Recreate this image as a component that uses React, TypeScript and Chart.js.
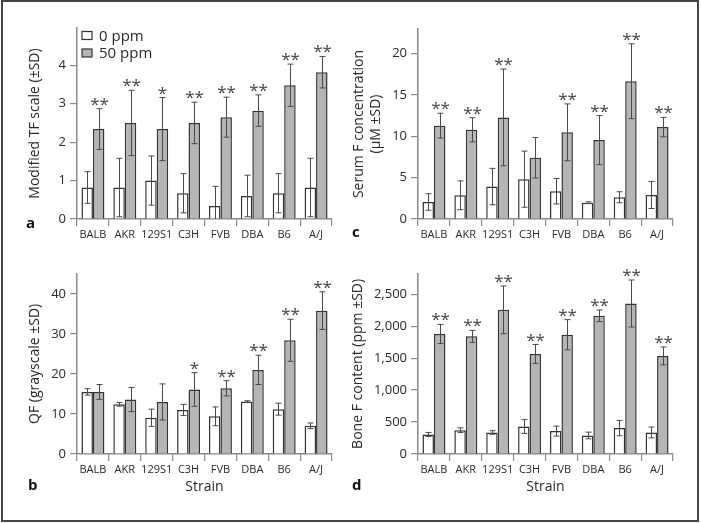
import React, { useEffect, useRef } from 'react';
import { Chart, registerables } from 'chart.js';

Chart.register(...registerables);

// ---------- data ----------
const strains = ['BALB', 'AKR', '129S1', 'C3H', 'FVB', 'DBA', 'B6', 'A/J'];
const doseLabels = ['0 ppm', '50 ppm'];

// panel a: modified TF scale
const tfControl = [0.82, 0.82, 1.0, 0.67, 0.34, 0.6, 0.67, 0.82];
const tfControlSd = [0.41, 0.76, 0.64, 0.51, 0.51, 0.54, 0.51, 0.76];
const tfFluoride = [2.34, 2.5, 2.34, 2.5, 2.65, 2.82, 3.48, 3.82];
const tfFluorideSd = [0.53, 0.85, 0.82, 0.54, 0.52, 0.41, 0.55, 0.41];
const tfSig = ['**', '**', '*', '**', '**', '**', '**', '**'];
const tfTicks = [0, 1, 2, 3, 4];

// panel b: QF grayscale
const qfControl = [15.5, 12.4, 9.05, 11.0, 9.4, 13.1, 11.2, 7.05];
const qfControlSd = [0.8, 0.45, 2.15, 1.4, 2.35, 0.2, 1.5, 0.7];
const qfFluoride = [15.5, 13.6, 13.0, 16.1, 16.4, 21.0, 28.4, 35.8];
const qfFluorideSd = [1.85, 3.0, 4.5, 4.2, 1.9, 3.65, 5.25, 4.7];
const qfSig = ['', '', '', '*', '**', '**', '**', '**'];
const qfTicks = [0, 10, 20, 30, 40];

// panel c: serum F concentration
const serumControl = [2.06, 2.87, 3.93, 4.82, 3.36, 1.98, 2.63, 2.91];
const serumControlSd = [1.0, 1.74, 2.2, 3.4, 1.54, 0.1, 0.67, 1.64];
const serumFluoride = [11.3, 10.8, 12.3, 7.41, 10.49, 9.55, 16.68, 11.13];
const serumFluorideSd = [1.5, 1.46, 5.85, 2.45, 3.44, 2.97, 4.53, 1.17];
const serumSig = ['**', '**', '**', '', '**', '**', '**', '**'];
const serumTicks = [0, 5, 10, 15, 20];

// panel d: bone F content
const boneControl = [306, 373, 337, 430, 358, 290, 405, 337];
const boneControlSd = [31, 36, 28, 108, 78, 52, 120, 85];
const boneFluoride = [1878, 1841, 2256, 1566, 1867, 2163, 2355, 1535];
const boneFluorideSd = [150, 93, 373, 148, 236, 90, 368, 140];
const boneSig = ['**', '**', '**', '**', '**', '**', '**', '**'];
const boneTicks = [0, 500, 1000, 1500, 2000, 2500];

// ---------- styling ----------
const FONT = "'Open Sans', 'Noto Sans', sans-serif";
const TEXT = '#2a2a2a';
const AXIS = '#8a8a8a';
const BAR_BORDER = '#333333';
const FILL_CTRL = '#ffffff';
const FILL_F = '#b5b5b5';

Chart.defaults.font.family = FONT;
Chart.defaults.color = TEXT;

const errorBarPlugin = {
  id: 'errorBars',
  afterDatasetsDraw(chart: any, _args: any, opts: any) {
    const { ctx } = chart;
    const ys = chart.scales.y;
    chart.data.datasets.forEach((ds: any, di: number) => {
      const meta = chart.getDatasetMeta(di);
      const sds = opts.sds[di];
      meta.data.forEach((bar: any, j: number) => {
        const v = ds.data[j];
        const sd = sds[j];
        const x = Math.round(bar.x) + 0.5;
        const yt = ys.getPixelForValue(v + sd);
        const low = v - sd;
        const yb = ys.getPixelForValue(Math.max(low, 0));
        const cap = 3;
        ctx.save();
        ctx.strokeStyle = opts.color;
        ctx.lineWidth = 1;
        ctx.beginPath();
        ctx.moveTo(x, yt);
        ctx.lineTo(x, yb);
        ctx.moveTo(x - cap, yt);
        ctx.lineTo(x + cap, yt);
        if (low > 0) {
          ctx.moveTo(x - cap, yb);
          ctx.lineTo(x + cap, yb);
        }
        ctx.stroke();
        if (di === 1 && opts.sig[j]) {
          const size = opts.sigSize;
          ctx.fillStyle = opts.sigColor;
          ctx.font = `${size}px ${FONT}`;
          ctx.textAlign = 'center';
          ctx.textBaseline = 'alphabetic';
          ctx.fillText(opts.sig[j], x, yt - opts.sigGap + 0.59 * size);
        }
        ctx.restore();
      });
    });
  },
};

const legendPlugin = {
  id: 'boxLegend',
  afterDraw(chart: any, _args: any, opts: any) {
    if (!opts || !opts.show) return;
    const { ctx } = chart;
    chart.data.datasets.forEach((ds: any, i: number) => {
      const cy = opts.y + i * opts.dy;
      ctx.save();
      ctx.fillStyle = ds.backgroundColor;
      ctx.fillRect(opts.x, cy - opts.boxH / 2, opts.boxW, opts.boxH);
      ctx.strokeStyle = ds.borderColor;
      ctx.lineWidth = 1.2;
      ctx.strokeRect(opts.x, cy - opts.boxH / 2, opts.boxW, opts.boxH);
      ctx.fillStyle = TEXT;
      ctx.font = `${opts.size}px ${FONT}`;
      ctx.textAlign = 'left';
      ctx.textBaseline = 'middle';
      ctx.fillText(ds.label, opts.x + opts.boxW + 7, cy + 1);
      ctx.restore();
    });
  },
};

const letterPlugin = {
  id: 'panelLetter',
  afterDraw(chart: any, _args: any, opts: any) {
    const { ctx } = chart;
    ctx.save();
    ctx.fillStyle = '#111';
    ctx.font = `bold 15px ${FONT}`;
    ctx.textAlign = 'left';
    ctx.textBaseline = 'alphabetic';
    ctx.fillText(opts.text, opts.x, opts.y);
    ctx.restore();
  },
};

type Spec = {
  left: number; top: number; width: number; height: number;
  control: number[]; controlSd: number[]; fluoride: number[]; fluorideSd: number[]; sig: string[];
  yMax: number; yTicks: number[]; yTitle: string | string[]; yTitlePad: number; yTitleLH: number;
  xTitle?: string;
  yWidth: number; padRight: number; padTop: number; xHeight: number;
  letter: string; letterX: number; letterY: number; legend?: boolean;
};

function makeConfig(s: Spec): any {
  return {
    type: 'bar',
    data: {
      labels: strains,
      datasets: [
        { label: doseLabels[0], data: s.control, backgroundColor: FILL_CTRL, borderColor: BAR_BORDER, borderWidth: 1.5, categoryPercentage: 0.72, barPercentage: 1 },
        { label: doseLabels[1], data: s.fluoride, backgroundColor: FILL_F, borderColor: BAR_BORDER, borderWidth: 1.5, categoryPercentage: 0.72, barPercentage: 1 },
      ],
    },
    options: {
      responsive: false,
      animation: false,
      locale: 'en-US',
      layout: { padding: { left: 0, right: s.padRight, top: s.padTop, bottom: 0 } },
      plugins: {
        legend: { display: false },
        tooltip: { enabled: false },
        errorBars: { sds: [s.controlSd, s.fluorideSd], sig: s.sig, color: '#4a4a4a', sigColor: '#444', sigSize: 17, sigGap: 9 },
        boxLegend: { show: !!s.legend, x: 82, y: 35.5, dy: 17.5, boxW: 10, boxH: 8, size: 15 },
        panelLetter: { text: s.letter, x: s.letterX, y: s.letterY },
      },
      scales: {
        x: {
          type: 'category',
          offset: true,
          grid: { offset: true, drawOnChartArea: false, drawTicks: true, tickLength: 7, color: AXIS, lineWidth: 1.2 },
          border: { display: true, color: AXIS, width: 1.5 },
          ticks: { font: { size: 11 }, color: TEXT, padding: 2, autoSkip: false, maxRotation: 0 },
          title: s.xTitle
            ? { display: true, text: s.xTitle, font: { size: 14 }, color: TEXT, padding: { top: 0, bottom: 28 } }
            : { display: false },
          afterFit: (sc: any) => { sc.height = s.xHeight; },
        },
        y: {
          min: 0,
          max: s.yMax,
          grid: { drawOnChartArea: false, drawTicks: true, tickLength: 7, color: AXIS, lineWidth: 1.2 },
          border: { display: true, color: AXIS, width: 1.5 },
          ticks: { font: { size: 13 }, color: TEXT, padding: 4 },
          afterBuildTicks: (sc: any) => { sc.ticks = s.yTicks.map((v) => ({ value: v })); },
          title: { display: true, text: s.yTitle, font: { size: 14, lineHeight: s.yTitleLH }, color: TEXT, padding: { top: s.yTitlePad, bottom: 0 } },
          afterFit: (sc: any) => { sc.width = s.yWidth; },
        },
      },
    },
    plugins: [errorBarPlugin, legendPlugin, letterPlugin],
  };
}

const panels: Spec[] = [
  {
    left: 0, top: 0, width: 350, height: 262,
    control: tfControl, controlSd: tfControlSd, fluoride: tfFluoride, fluorideSd: tfFluorideSd, sig: tfSig,
    yMax: 4.97, yTicks: tfTicks, yTitle: 'Modified TF scale (±SD)', yTitlePad: 26.6, yTitleLH: 1.2,
    yWidth: 77, padRight: 18, padTop: 28, xHeight: 43,
    letter: 'a', letterX: 26, letterY: 228, legend: true,
  },
  {
    left: 350, top: 0, width: 351, height: 262,
    control: serumControl, controlSd: serumControlSd, fluoride: serumFluoride, fluorideSd: serumFluorideSd, sig: serumSig,
    yMax: 23, yTicks: serumTicks, yTitle: ['Serum F concentration', '(μM ±SD)'], yTitlePad: 0, yTitleLH: 1.26,
    yWidth: 68, padRight: 28, padTop: 29, xHeight: 43,
    letter: 'c', letterX: 2, letterY: 237,
  },
  {
    left: 0, top: 262, width: 350, height: 261,
    control: qfControl, controlSd: qfControlSd, fluoride: qfFluoride, fluorideSd: qfFluorideSd, sig: qfSig,
    yMax: 45, yTicks: qfTicks, yTitle: 'QF (grayscale ±SD)', yTitlePad: 26.6, yTitleLH: 1.2, xTitle: 'Strain',
    yWidth: 77, padRight: 18, padTop: 11, xHeight: 69,
    letter: 'b', letterX: 28, letterY: 228,
  },
  {
    left: 350, top: 262, width: 351, height: 261,
    control: boneControl, controlSd: boneControlSd, fluoride: boneFluoride, fluorideSd: boneFluorideSd, sig: boneSig,
    yMax: 2820, yTicks: boneTicks, yTitle: 'Bone F content (ppm ±SD)', yTitlePad: 0, yTitleLH: 1.2, xTitle: 'Strain',
    yWidth: 68, padRight: 28, padTop: 11, xHeight: 69,
    letter: 'd', letterX: 2, letterY: 228,
  },
];

function Panel({ spec }: { spec: Spec }) {
  const ref = useRef<HTMLCanvasElement | null>(null);
  useEffect(() => {
    if (!ref.current) return;
    const chart = new Chart(ref.current, makeConfig(spec));
    return () => chart.destroy();
  }, [spec]);
  return (
    <canvas
      ref={ref}
      width={spec.width}
      height={spec.height}
      style={{ position: 'absolute', left: spec.left, top: spec.top, width: spec.width, height: spec.height }}
    />
  );
}

export default function App() {
  return (
    <div style={{ position: 'fixed', left: 0, top: 0, width: 701, height: 523, background: '#fff', overflow: 'hidden' }}>
      {panels.map((p, i) => (
        <Panel key={i} spec={p} />
      ))}
      <div
        style={{
          position: 'absolute', left: 1, top: 0, width: 698, height: 522,
          border: '2px solid #444', boxSizing: 'border-box', pointerEvents: 'none',
        }}
      />
    </div>
  );
}
